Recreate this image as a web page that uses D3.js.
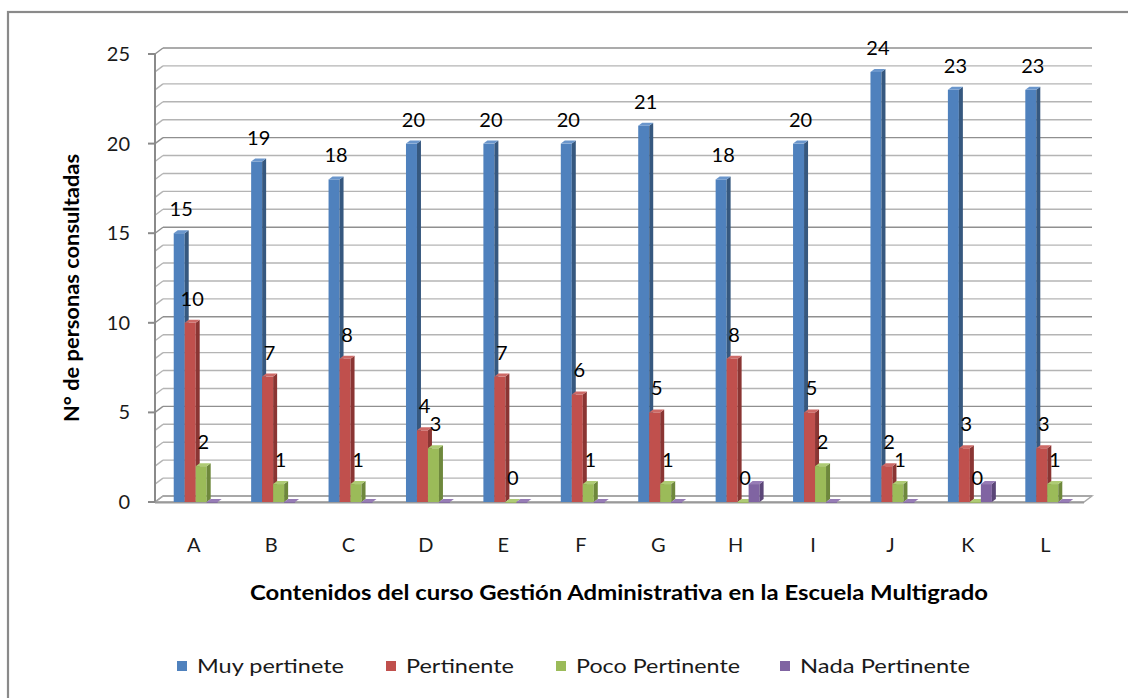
<!DOCTYPE html>
<html>
<head>
<meta charset="utf-8">
<script src="https://cdn.jsdelivr.net/npm/d3@7"></script>
<style>
  html, body { margin: 0; padding: 0; background: #fff; }
  svg { display: block; font-family: Lato, "Open Sans", sans-serif; }
</style>
</head>
<body>
<svg id="chart" width="1128" height="698"></svg>
<script>
// Contents of the course (categories on the x axis)
const categories = ["A", "B", "C", "D", "E", "F", "G", "H", "I", "J", "K", "L"];
const seriesNames = ["Muy pertinete", "Pertinente", "Poco Pertinente", "Nada Pertinente"];

// Number of people consulted, per rating
const muyPertinente   = [15, 19, 18, 20, 20, 20, 21, 18, 20, 24, 23, 23];
const pertinente      = [10, 7, 8, 4, 7, 6, 5, 8, 5, 2, 3, 3];
const pocoPertinente  = [2, 1, 1, 3, 0, 1, 1, 0, 2, 1, 0, 1];
const nadaPertinente  = [0, 0, 0, 0, 0, 0, 0, 1, 0, 0, 1, 0];

const yTicks = [0, 5, 10, 15, 20, 25];
const yMax = 25;

const yTitle = "N° de personas consultadas";
const xTitle = "Contenidos del curso Gestión Administrativa en la Escuela Multigrado";

const seriesValues = [muyPertinente, pertinente, pocoPertinente, nadaPertinente];
const showLabels = [true, true, true, false];

const palette = {
  front: ["#4F81BD", "#C0504D", "#9BBB59", "#8064A2"],
  side:  ["#36587F", "#8A3533", "#6E883C", "#5B4678"],
  top:   ["#6A96CC", "#CD6A67", "#AECB74", "#977CB6"]
};

const svg = d3.select("#chart");

// chart area frame
svg.append("rect")
  .attr("x", 8).attr("y", 12)
  .attr("width", 1140).attr("height", 720)
  .attr("fill", "#fff")
  .attr("stroke", "#8a8a8a").attr("stroke-width", 2.2);

// plot geometry (oblique 3D look)
const x0 = 155, x1 = 1084;
const wallDx = 8, wallDy = -6;     // depth of back wall
const barDx = 4, barDy = -3;       // depth of each column

const y = d3.scaleLinear().domain([0, yMax]).range([502, 54]);

const x = d3.scaleBand()
  .domain(categories)
  .range([x0 + 2, x1 + 2])
  .paddingInner(0.432)
  .paddingOuter(0.216);

const xs = d3.scaleBand()
  .domain(seriesNames)
  .range([0, x.bandwidth()])
  .padding(0);

const grid = svg.append("g");
const gridValues = d3.range(0, yMax + 1);

// back wall gridlines
grid.selectAll("line.back")
  .data(gridValues)
  .join("line")
  .attr("class", "back")
  .attr("x1", x0 + wallDx).attr("x2", x1 + wallDx)
  .attr("y1", d => y(d) + wallDy).attr("y2", d => y(d) + wallDy)
  .attr("stroke", d => d % 5 === 0 ? "#8f8f8f" : "#b4b4b4")
  .attr("stroke-width", 1.4);

// side wall gridlines
grid.selectAll("line.side")
  .data(gridValues)
  .join("line")
  .attr("class", "side")
  .attr("x1", x0).attr("x2", x0 + wallDx)
  .attr("y1", d => y(d)).attr("y2", d => y(d) + wallDy)
  .attr("stroke", d => d % 5 === 0 ? "#8f8f8f" : "#b4b4b4")
  .attr("stroke-width", 1.4);

// floor
const y0 = y(0);
grid.append("path")
  .attr("d", `M${x0},${y0} L${x1},${y0} L${x1 + wallDx},${y0 + wallDy} L${x0 + wallDx},${y0 + wallDy} Z`)
  .attr("fill", "none")
  .attr("stroke", "#a8a8a8")
  .attr("stroke-width", 1.4);

// vertical axis
const axis = svg.append("g");
axis.append("line")
  .attr("x1", x0).attr("x2", x0)
  .attr("y1", y(yMax)).attr("y2", y0 + 1)
  .attr("stroke", "#8a8a8a").attr("stroke-width", 2);
axis.selectAll("line.tick")
  .data(yTicks)
  .join("line")
  .attr("class", "tick")
  .attr("x1", x0 - 7).attr("x2", x0)
  .attr("y1", d => y(d)).attr("y2", d => y(d))
  .attr("stroke", "#8a8a8a").attr("stroke-width", 2);
axis.selectAll("text")
  .data(yTicks)
  .join("text")
  .attr("x", 130)
  .attr("y", d => y(d) + 7)
  .attr("text-anchor", "end")
  .attr("font-size", 20)
  .attr("fill", "#1a1a1a")
  .text(d => d);

// floor front edge
svg.append("line")
  .attr("x1", x0).attr("x2", x1)
  .attr("y1", y0 + 0.5).attr("y2", y0 + 0.5)
  .attr("stroke", "#9a9a9a").attr("stroke-width", 2.2);

// columns
const bars = svg.append("g");
categories.forEach((cat, ci) => {
  seriesNames.forEach((name, si) => {
    const v = seriesValues[si][ci];
    const bx = x(cat) + xs(name);
    const bw = xs.bandwidth();
    const yt = y(v);
    const g = bars.append("g");
    // front face
    g.append("rect")
      .attr("x", bx).attr("y", yt)
      .attr("width", bw).attr("height", Math.max(0.8, y0 - yt))
      .attr("fill", palette.front[si]);
    // right side
    g.append("path")
      .attr("d", `M${bx + bw},${yt} L${bx + bw + barDx},${yt + barDy} L${bx + bw + barDx},${y0 + barDy} L${bx + bw},${y0} Z`)
      .attr("fill", palette.side[si]);
    // top
    g.append("path")
      .attr("d", `M${bx},${yt} L${bx + barDx},${yt + barDy} L${bx + bw + barDx},${yt + barDy} L${bx + bw},${yt} Z`)
      .attr("fill", palette.top[si]);
  });
});

// value labels
const labels = svg.append("g");
seriesNames.forEach((name, si) => {
  if (!showLabels[si]) return;
  labels.selectAll(null)
    .data(categories)
    .join("text")
    .attr("x", (c) => x(c) + xs(name) + xs.bandwidth() / 2 + 2)
    .attr("y", (c, i) => y(seriesValues[si][i]) - 17)
    .attr("text-anchor", "middle")
    .attr("font-size", 20)
    .attr("fill", "#000")
    .text((c, i) => seriesValues[si][i]);
});

// category labels
svg.append("g").selectAll("text")
  .data(categories)
  .join("text")
  .attr("x", d => x(d) + x.bandwidth() / 2 - 2)
  .attr("y", 552)
  .attr("text-anchor", "middle")
  .attr("font-size", 20)
  .attr("fill", "#1a1a1a")
  .text(d => d);

// axis titles
svg.append("text")
  .attr("transform", "translate(79,288) rotate(-90)")
  .attr("text-anchor", "middle")
  .attr("font-size", 20)
  .attr("font-weight", "bold")
  .attr("fill", "#000")
  .attr("textLength", 268)
  .attr("lengthAdjust", "spacingAndGlyphs")
  .text(yTitle);

svg.append("text")
  .attr("x", 619).attr("y", 600)
  .attr("text-anchor", "middle")
  .attr("font-size", 20)
  .attr("font-weight", "bold")
  .attr("fill", "#000")
  .attr("textLength", 738)
  .attr("lengthAdjust", "spacingAndGlyphs")
  .text(xTitle);

// legend
const legendX = [177, 386, 556, 780];
const legendW = [147, 108, 164, 170];
const legend = svg.append("g");
seriesNames.forEach((name, si) => {
  legend.append("rect")
    .attr("x", legendX[si]).attr("y", 661)
    .attr("width", 10).attr("height", 10)
    .attr("fill", palette.front[si]);
  legend.append("text")
    .attr("x", legendX[si] + 20).attr("y", 673)
    .attr("font-size", 20)
    .attr("fill", "#1a1a1a")
    .attr("textLength", legendW[si])
    .attr("lengthAdjust", "spacingAndGlyphs")
    .text(name);
});
</script>
</body>
</html>
